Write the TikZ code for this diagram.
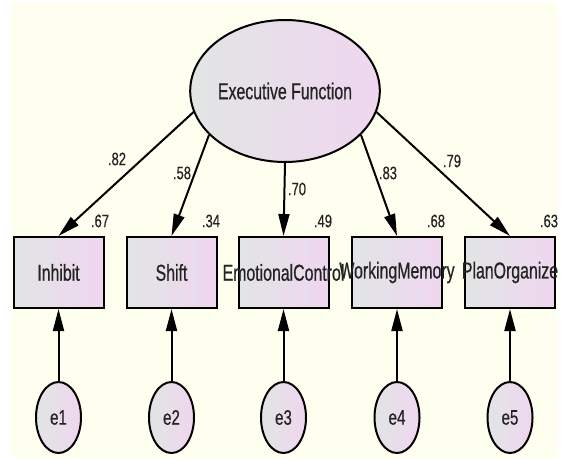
\documentclass[tikz,border=0pt]{standalone}
\usepackage{fontspec}
\newfontfamily\af[FakeStretch=0.69,FakeBold=0.6]{Liberation Sans}
\newfontfamily\afn[FakeStretch=0.72,FakeBold=0.5]{Liberation Sans}
\usetikzlibrary{shapes.geometric,arrows.meta}
\definecolor{bgcream}{RGB}{255,255,240}
\definecolor{shadeL}{RGB}{225,229,228}
\definecolor{shadeR}{RGB}{240,214,240}
\definecolor{txt}{RGB}{35,35,35}
\tikzset{
  x=1pt, y=-1pt,
  shp/.style={draw=black, line width=2pt, left color=shadeL, right color=shadeR, inner sep=0pt, text=txt},
  latent/.style={shp, ellipse, minimum width=184pt, minimum height=142pt, font=\af\fontsize{23}{25}\selectfont},
  obs/.style={shp, rectangle, minimum width=90pt, minimum height=71pt, font=\af\fontsize{23}{25}\selectfont},
  err/.style={shp, ellipse, minimum width=45pt, minimum height=71pt, font=\afn\fontsize{21}{23}\selectfont},
  path/.style={line width=2pt, -{Triangle[length=22pt,width=11pt]}},
  num/.style={font=\afn\fontsize{18}{20}\selectfont, text=txt, inner sep=0pt},
  lbl/.style={text=txt, font=\af\fontsize{23}{25}\selectfont, inner sep=0pt}
}
\begin{document}
\begin{tikzpicture}
\useasboundingbox (0,0) rectangle (561,460);
\fill[white] (0,0) rectangle (561,460);
\fill[bgcream] (11,3) rectangle (557,458);

\node[latent] (ef) at (285,91) {Executive Function};

\node[obs] (b1) at (58.5,272.5) {Inhibit};
\node[obs] (b2) at (171.5,272.5) {Shift};
\node[obs] (b3) at (283.5,272.5) {};
\node[obs] (b4) at (397,272.5) {};
\node[obs] (b5) at (510,272.5) {};
\node[lbl] (t3) at (b3) {EmotionalControl};
\node[lbl] (t4) at (b4) {WorkingMemory};
\node[lbl] (t5) at (b5) {PlanOrganize};

\node[err] (e1) at (58.5,417.5) {e1};
\node[err] (e2) at (171.5,417.5) {e2};
\node[err] (e3) at (283.5,417.5) {e3};
\node[err] (e4) at (397,417.5) {e4};
\node[err] (e5) at (510,417.5) {e5};

\draw[path] (ef.193) -- (b1.north);
\draw[path] (ef.210) -- (b2.north);
\draw[path] (ef.south) -- (b3.north);
\draw[path] (ef.330) -- (b4.north);
\draw[path] (ef.347) -- (b5.north);

\foreach \i in {1,...,5} {
  \draw[path] (e\i.north) -- (b\i.south);
}

\node[num] (l1) at (117,159) {.82};
\node[num] (l2) at (182,173) {.58};
\node[num] (l3) at (297,189) {.70};
\node[num] (l4) at (388,173) {.83};
\node[num] (l5) at (452,161) {.79};

\node[num] (r1) at (100,221) {.67};
\node[num] (r2) at (211,221) {.34};
\node[num] (r3) at (323,221) {.49};
\node[num] (r4) at (436,221) {.68};
\node[num] (r5) at (549,221) {.63};
\end{tikzpicture}
\end{document}
